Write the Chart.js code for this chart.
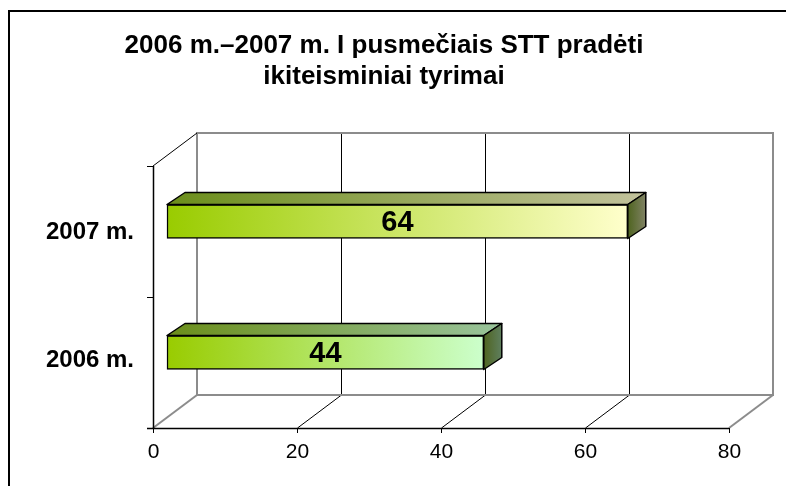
<!DOCTYPE html>
<html>
<head>
<meta charset="utf-8">
<script src="https://cdn.jsdelivr.net/npm/chart.js@4"></script>
<style>
  html, body { margin: 0; padding: 0; background: #fff; }
  canvas { display: block; }
</style>
</head>
<body>
<canvas id="tyrimaiChart" width="786" height="486"></canvas>
<script>
// Duomenys
const pavadinimas = ['2006 m.–2007 m. I pusmečiais STT pradėti', 'ikiteisminiai tyrimai'];
const metai = ['2007 m.', '2006 m.'];
const tyrimai = [64, 44];
const asiesZymes = [0, 20, 40, 60, 80];

// Spalvos (gradiento pradžia / pabaiga)
const priekis = [['#99cc00', '#ffffcc'], ['#99cc00', '#ccffcc']];
const virsus = [['#6b8e1a', '#c2c29c'], ['#6b8e1a', '#99c49c']];
const sonas = [['#4f6420', '#808264'], ['#4f6420', '#5f7f5f']];

const SRIFTAS = '"Liberation Sans", Arial, sans-serif';
const D = { x: 44, y: -33 };  // sienų gylis
const B = { x: 14, y: -10 };  // stulpelio priekio poslinkis
const G = { x: 18, y: -12 };  // stulpelio gylis

function gradientas(ctx, x0, x1, spalvos) {
    const g = ctx.createLinearGradient(x0, 0, x1, 0);
    g.addColorStop(0, spalvos[0]);
    g.addColorStop(1, spalvos[1]);
    return g;
}

function linija(ctx, x0, y0, x1, y1, spalva, storis) {
    ctx.strokeStyle = spalva;
    ctx.lineWidth = storis;
    ctx.beginPath();
    ctx.moveTo(x0, y0);
    ctx.lineTo(x1, y1);
    ctx.stroke();
}

const erdve = {
    id: 'erdve',
    beforeDraw(chart) {
        const { ctx, chartArea: a, scales: { x, y } } = chart;
        ctx.save();
        // rėmelis
        ctx.strokeStyle = '#000';
        ctx.lineWidth = 2;
        ctx.beginPath();
        ctx.moveTo(9, 490); ctx.lineTo(9, 11); ctx.lineTo(790, 11);
        ctx.stroke();

        // pavadinimas
        ctx.fillStyle = '#000';
        ctx.font = 'bold 26px ' + SRIFTAS;
        ctx.textAlign = 'center';
        ctx.textBaseline = 'middle';
        pavadinimas.forEach((t, i) => ctx.fillText(t, 384, 46 + i * 31));

        const x0 = x.getPixelForValue(asiesZymes[0]);
        const xN = x.getPixelForValue(asiesZymes[asiesZymes.length - 1]);

        // galinė siena
        asiesZymes.slice(1, -1).forEach(v => {
            const px = Math.round(x.getPixelForValue(v)) + 0.5;
            linija(ctx, px + D.x, a.top + D.y, px + D.x, a.bottom + D.y, '#000', 1);
            linija(ctx, px, a.bottom, px + D.x, a.bottom + D.y, '#000', 1);
        });
        ctx.strokeStyle = '#8c8c8c';
        ctx.lineWidth = 2;
        ctx.strokeRect(x0 + D.x, a.top + D.y, xN - x0, a.bottom - a.top);
        linija(ctx, x0, a.bottom, x0 + D.x, a.bottom + D.y, '#8c8c8c', 2);
        linija(ctx, xN, a.bottom, xN + D.x, a.bottom + D.y, '#8c8c8c', 2);

        // kairė siena
        linija(ctx, x0 + 0.5, a.top, x0 + 0.5, a.bottom, '#000', 1.5);
        linija(ctx, x0, a.top, x0 + D.x, a.top + D.y, '#000', 1);
        const vidurys = (y.getPixelForValue(0) + y.getPixelForValue(1)) / 2;
        [a.top, vidurys, a.bottom].forEach(py => linija(ctx, x0 - 6, Math.round(py) + 0.5, x0, Math.round(py) + 0.5, '#000', 1));
        ctx.font = 'bold 24px ' + SRIFTAS;
        ctx.textAlign = 'right';
        metai.forEach((m, i) => ctx.fillText(m, x0 - 19, y.getPixelForValue(i) - 3 * i + 1));

        // apatinė ašis
        linija(ctx, x0 - 6, a.bottom + 0.5, xN, a.bottom + 0.5, '#000', 1.5);
        ctx.font = '21px ' + SRIFTAS;
        ctx.textAlign = 'center';
        asiesZymes.forEach(v => {
            const px = Math.round(x.getPixelForValue(v)) + 0.5;
            linija(ctx, px, a.bottom, px, a.bottom + 5, '#000', 1);
            ctx.fillText(String(v), px, a.bottom + 24);
        });
        ctx.restore();
    },
    beforeDatasetsDraw(chart) {
        chart.ctx.save();
        chart.ctx.translate(B.x, B.y);
    },
    afterDatasetsDraw(chart) {
        const ctx = chart.ctx;
        chart.getDatasetMeta(0).data.forEach((el, i) => {
            const l = el.base, r = el.x, t = el.y - el.height / 2, b = el.y + el.height / 2;
            ctx.strokeStyle = '#000';
            ctx.lineWidth = 1.5;
            ctx.lineJoin = 'round';
            // viršus
            ctx.fillStyle = gradientas(ctx, l, r + G.x, virsus[i]);
            ctx.beginPath();
            ctx.moveTo(l, t); ctx.lineTo(l + G.x, t + G.y); ctx.lineTo(r + G.x, t + G.y); ctx.lineTo(r, t);
            ctx.closePath(); ctx.fill(); ctx.stroke();
            // šonas
            ctx.fillStyle = gradientas(ctx, r, r + G.x, sonas[i]);
            ctx.beginPath();
            ctx.moveTo(r, t); ctx.lineTo(r + G.x, t + G.y); ctx.lineTo(r + G.x, b + G.y); ctx.lineTo(r, b);
            ctx.closePath(); ctx.fill(); ctx.stroke();
            // reikšmė
            ctx.fillStyle = '#000';
            ctx.font = 'bold 29px ' + SRIFTAS;
            ctx.textAlign = 'center';
            ctx.textBaseline = 'middle';
            ctx.fillText(String(tyrimai[i]), (l + r) / 2, el.y + 1);
        });
        ctx.restore();
    }
};

const ctx = document.getElementById('tyrimaiChart').getContext('2d');
const tyrimaiChart = new Chart(ctx, {
    type: 'bar',
    data: {
        labels: metai,
        datasets: [{
            data: tyrimai,
            backgroundColor: (c) => {
                const a = c.chart.chartArea;
                if (!a) return priekis[c.dataIndex][0];
                const x = c.chart.scales.x;
                return gradientas(c.chart.ctx, x.getPixelForValue(0), x.getPixelForValue(c.raw), priekis[c.dataIndex]);
            },
            borderColor: '#000',
            borderWidth: 1.5,
            borderSkipped: false,
            barThickness: 34,
            clip: false
        }]
    },
    plugins: [erdve],
    options: {
        indexAxis: 'y',
        responsive: false,
        animation: false,
        layout: { padding: { left: 153, top: 166, right: 57, bottom: 58 } },
        plugins: { legend: { display: false }, tooltip: { enabled: false }, title: { display: false } },
        scales: {
            x: { display: false, min: 0, max: 80 },
            y: { display: false }
        }
    }
});
</script>
</body>
</html>
